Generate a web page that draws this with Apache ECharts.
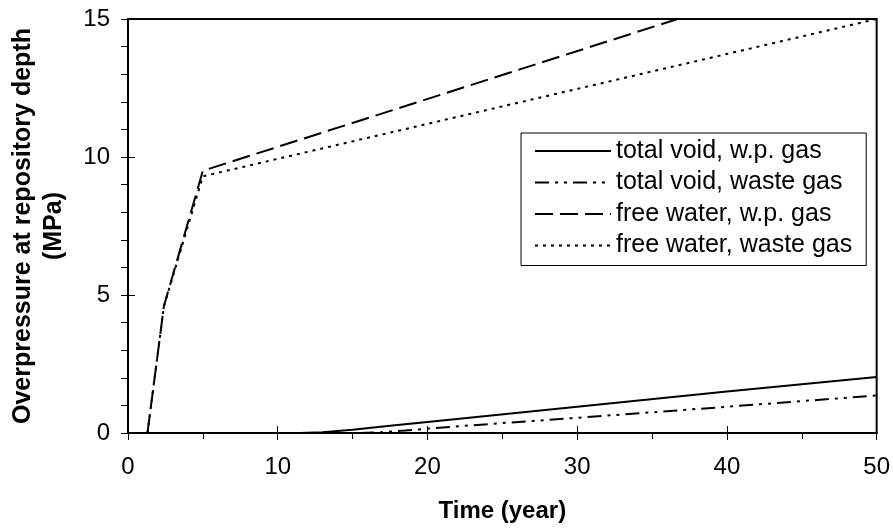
<!DOCTYPE html>
<html>
<head>
<meta charset="utf-8">
<script src="https://cdn.jsdelivr.net/npm/echarts@6/dist/echarts.min.js"></script>
<style>html,body{margin:0;padding:0;background:#fff;}#c{width:893px;height:529px;}</style>
</head>
<body>
<div id="c"></div>
<script>
var seriesNames = ['total void, w.p. gas', 'total void, waste gas', 'free water, w.p. gas', 'free water, waste gas'];
var totalVoidWp = [[11.5,0],[13,0.03],[15,0.12],[17.5,0.26],[20,0.4],[30,0.95],[40,1.5],[50,2.03]];
var totalVoidWaste = [[15.5,0],[17,0.03],[18.5,0.09],[20,0.16],[25,0.36],[30,0.55],[40,0.95],[50,1.36]];
var freeWaterWp = [[1.3,0],[2.4,4.6],[5,9.5],[36.7,15]];
var freeWaterWaste = [[1.3,0],[2.4,4.6],[5,9.3],[50,15]];
var xTicks = [0,10,20,30,40,50];
var yTicks = [0,5,10,15];

var FONT = '"Liberation Sans", Arial, sans-serif';
var chart = echarts.init(document.getElementById('c'));
function mkSeries(name, data, type) {
  return {
    name: name, type: 'line', data: data, symbol: 'none', smooth: false,
    xAxisIndex: 0, yAxisIndex: 0,
    lineStyle: { color: '#000', width: 2, type: type },
    itemStyle: { color: '#000' },
    emphasis: { disabled: true }
  };
}
var baseX = {
  type: 'value', min: xTicks[0], max: xTicks[xTicks.length-1], interval: 10,
  splitLine: { show: false }
};
var baseY = {
  type: 'value', min: yTicks[0], max: yTicks[yTicks.length-1], interval: 5,
  splitLine: { show: false }
};
chart.setOption({
  backgroundColor: '#fff',
  animation: false,
  grid: { left: 127, right: 16, top: 19, bottom: 96, show: true, borderColor: '#000', borderWidth: 2, backgroundColor: 'transparent' },
  legend: {
    orient: 'vertical', left: 521, top: 133,
    borderColor: '#000', borderWidth: 1, backgroundColor: '#fff',
    padding: [4, 14, 6, 13],
    itemWidth: 76, itemHeight: 14, itemGap: 3.5,
    itemStyle: { opacity: 0 },
    textStyle: { fontFamily: FONT, fontSize: 25, color: '#000', lineHeight: 28 },
    data: seriesNames,
    selectedMode: false
  },
  xAxis: [
    Object.assign({}, baseX, {
      position: 'bottom',
      name: 'Time (year)', nameLocation: 'middle', nameGap: 66,
      nameTextStyle: { fontFamily: FONT, fontSize: 24, fontWeight: 'bold', color: '#000' },
      axisLine: { show: true, onZero: false, lineStyle: { color: '#000', width: 2 } },
      axisTick: { show: true, inside: false, length: 7, lineStyle: { color: '#000', width: 1 } },
      minorTick: { show: true, splitNumber: 2, length: 6, lineStyle: { color: '#000', width: 1 } },
      axisLabel: { fontFamily: FONT, fontSize: 24, color: '#000', margin: 22 }
    }),
    Object.assign({}, baseX, {
      position: 'bottom', offset: 0,
      axisLine: { show: false, onZero: false },
      axisTick: { show: true, inside: true, length: 7, lineStyle: { color: '#000', width: 1 } },
      axisLabel: { show: false }
    })
  ],
  yAxis: [
    Object.assign({}, baseY, {
      position: 'left',
      name: 'Overpressure at repository depth\n(MPa)', nameLocation: 'middle', nameGap: 58,
      nameTextStyle: { fontFamily: FONT, fontSize: 25, fontWeight: 'bold', color: '#000', lineHeight: 31 },
      axisLine: { show: true, onZero: false, lineStyle: { color: '#000', width: 2 } },
      axisTick: { show: true, inside: false, length: 7, lineStyle: { color: '#000', width: 1 } },
      minorTick: { show: true, splitNumber: 5, length: 7, lineStyle: { color: '#000', width: 1 } },
      axisLabel: { fontFamily: FONT, fontSize: 24, color: '#000', margin: 18 }
    }),
    Object.assign({}, baseY, {
      position: 'left', offset: 0,
      axisLine: { show: false, onZero: false },
      axisTick: { show: true, inside: true, length: 7, lineStyle: { color: '#000', width: 1 } },
      axisLabel: { show: false }
    })
  ],
  series: [
    mkSeries(seriesNames[0], totalVoidWp, 'solid'),
    mkSeries(seriesNames[1], totalVoidWaste, [14, 6, 3, 6, 3, 6]),
    mkSeries(seriesNames[2], freeWaterWp, [18, 7]),
    mkSeries(seriesNames[3], freeWaterWaste, [3, 5])
  ]
});
</script>
</body>
</html>
